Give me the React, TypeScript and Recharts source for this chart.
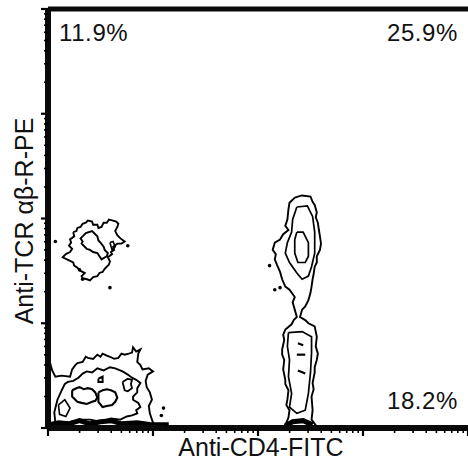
import React from 'react';
import { ScatterChart, Scatter, XAxis, YAxis } from 'recharts';

// Values are log10 fluorescence (decades): x = Anti-CD4-FITC, y = Anti-TCR αβ-R-PE
const DECADES = [0, 1, 2, 3, 4];
const MINOR_MULTIPLIERS = [2, 3, 4, 5, 6, 7, 8, 9];

const QUADRANT_LABELS = ['11.9%', '25.9%', '18.2%'];
const X_TITLE = 'Anti-CD4-FITC';
const Y_TITLE = 'Anti-TCR αβ-R-PE';

// Plot frame in decade units
const frameLeft = [[0, 4], [0, 0]];
const frameBottom = [[0, 0], [4, 0]];
const frameTop = [[0, 4], [4, 4]];

// Upper-left population (CD4- TCR+)
const popA_outer = [[0.24,1.87],[0.27,1.88],[0.28,1.91],[0.31,1.92],[0.33,1.95],[0.36,1.96],[0.38,1.98],[0.42,1.97],[0.43,1.94],[0.47,1.94],[0.48,1.91],[0.51,1.92],[0.53,1.96],[0.56,1.96],[0.58,1.99],[0.62,1.98],[0.65,1.97],[0.67,1.95],[0.66,1.92],[0.64,1.88],[0.66,1.84],[0.69,1.81],[0.73,1.78],[0.70,1.76],[0.66,1.76],[0.62,1.73],[0.63,1.70],[0.60,1.68],[0.61,1.66],[0.57,1.63],[0.59,1.59],[0.58,1.56],[0.54,1.52],[0.52,1.49],[0.49,1.48],[0.47,1.45],[0.43,1.44],[0.40,1.41],[0.37,1.42],[0.33,1.43],[0.32,1.45],[0.35,1.48],[0.31,1.50],[0.28,1.53],[0.25,1.55],[0.24,1.58],[0.20,1.60],[0.14,1.63],[0.17,1.66],[0.21,1.68],[0.23,1.71],[0.20,1.74],[0.22,1.77],[0.21,1.80],[0.25,1.83],[0.24,1.87]];
const popA_inner1 = [[0.33,1.83],[0.36,1.86],[0.42,1.88],[0.45,1.85],[0.47,1.83],[0.48,1.79],[0.50,1.77],[0.53,1.73],[0.54,1.70],[0.57,1.67],[0.56,1.64],[0.51,1.61],[0.49,1.64],[0.47,1.67],[0.43,1.68],[0.40,1.70],[0.37,1.71],[0.35,1.73],[0.32,1.76],[0.33,1.78],[0.31,1.81],[0.33,1.83]];
const popA_inner2 = [[0.59,1.77],[0.62,1.78],[0.64,1.73],[0.61,1.70],[0.59,1.77]];

// Lower-left population (double negative)
const popB_outer = [[0.02,0.62],[0.04,0.55],[0.07,0.49],[0.13,0.50],[0.21,0.49],[0.23,0.56],[0.26,0.60],[0.28,0.62],[0.33,0.63],[0.36,0.68],[0.38,0.67],[0.43,0.66],[0.47,0.70],[0.50,0.68],[0.52,0.71],[0.56,0.69],[0.59,0.68],[0.63,0.66],[0.67,0.67],[0.70,0.71],[0.73,0.70],[0.77,0.71],[0.80,0.72],[0.81,0.77],[0.84,0.73],[0.88,0.75],[0.86,0.71],[0.85,0.63],[0.88,0.60],[0.90,0.56],[0.96,0.57],[1.00,0.54],[0.95,0.51],[0.93,0.45],[0.94,0.39],[0.97,0.34],[0.99,0.27],[0.96,0.21],[0.97,0.14],[1.00,0.05],[1.07,0.01]];
const popB_middle = [[0.07,0.05],[0.06,0.15],[0.09,0.27],[0.13,0.36],[0.16,0.42],[0.19,0.44],[0.24,0.45],[0.29,0.48],[0.33,0.52],[0.37,0.54],[0.42,0.53],[0.47,0.57],[0.53,0.55],[0.59,0.58],[0.64,0.57],[0.71,0.54],[0.76,0.51],[0.80,0.48],[0.84,0.46],[0.88,0.43],[0.85,0.38],[0.85,0.34],[0.81,0.30],[0.81,0.27],[0.86,0.24],[0.88,0.20],[0.84,0.17],[0.85,0.14],[0.80,0.12],[0.75,0.11],[0.69,0.08],[0.60,0.09],[0.50,0.06],[0.40,0.08],[0.30,0.08],[0.22,0.06],[0.16,0.04],[0.07,0.05]];
const popB_inner1 = [[0.23,0.36],[0.27,0.38],[0.30,0.39],[0.34,0.37],[0.38,0.38],[0.42,0.37],[0.45,0.34],[0.47,0.29],[0.45,0.26],[0.42,0.25],[0.37,0.23],[0.32,0.24],[0.28,0.25],[0.26,0.27],[0.23,0.30],[0.23,0.36]];
const popB_inner2 = [[0.48,0.34],[0.52,0.36],[0.56,0.37],[0.60,0.36],[0.64,0.34],[0.66,0.29],[0.64,0.25],[0.61,0.22],[0.56,0.21],[0.52,0.20],[0.48,0.25],[0.48,0.34]];
const popB_inner3 = [[0.48,0.47],[0.52,0.49],[0.52,0.44],[0.48,0.44],[0.48,0.47]];
const popB_inner4 = [[0.71,0.44],[0.76,0.47],[0.80,0.46],[0.79,0.42],[0.80,0.38],[0.76,0.35],[0.73,0.36],[0.71,0.44]];
const popB_inner5 = [[0.10,0.22],[0.16,0.27],[0.21,0.19],[0.17,0.11],[0.11,0.13],[0.10,0.22]];
const popB_base = [[0.0,0.03],[0.1,0.05],[0.2,0.04],[0.3,0.07],[0.4,0.04],[0.5,0.06],[0.6,0.07],[0.7,0.04],[0.85,0.05],[1.0,0.03],[1.15,0.03]];

// Right population (CD4+ TCR+)
const popC_outer = [[2.35,2.20],[2.42,2.22],[2.50,2.21],[2.52,2.16],[2.54,2.13],[2.56,2.06],[2.55,2.01],[2.57,1.96],[2.58,1.89],[2.59,1.83],[2.60,1.76],[2.59,1.70],[2.56,1.64],[2.56,1.58],[2.54,1.54],[2.53,1.47],[2.52,1.42],[2.51,1.35],[2.50,1.29],[2.48,1.22],[2.45,1.16],[2.42,1.13],[2.40,1.06],[2.45,1.03],[2.48,1.00],[2.54,0.97],[2.55,0.92],[2.56,0.87],[2.55,0.78],[2.57,0.71],[2.56,0.65],[2.54,0.58],[2.54,0.53],[2.52,0.43],[2.53,0.37],[2.51,0.30],[2.52,0.17],[2.51,0.08],[2.57,0.0],[2.24,0.0],[2.27,0.05],[2.29,0.10],[2.30,0.17],[2.27,0.22],[2.28,0.27],[2.29,0.36],[2.26,0.42],[2.26,0.46],[2.24,0.56],[2.25,0.65],[2.23,0.70],[2.23,0.75],[2.25,0.84],[2.24,0.89],[2.26,0.94],[2.32,0.99],[2.34,1.03],[2.37,1.06],[2.35,1.13],[2.33,1.20],[2.35,1.25],[2.30,1.32],[2.26,1.35],[2.23,1.42],[2.21,1.49],[2.18,1.56],[2.16,1.61],[2.17,1.66],[2.14,1.70],[2.16,1.77],[2.21,1.80],[2.24,1.85],[2.29,1.89],[2.26,1.93],[2.28,1.99],[2.29,2.09],[2.30,2.15],[2.35,2.20]];
const popC_inner1 = [[2.37,2.11],[2.47,2.12],[2.52,2.02],[2.54,1.87],[2.54,1.67],[2.51,1.54],[2.48,1.45],[2.42,1.42],[2.37,1.48],[2.30,1.58],[2.26,1.67],[2.28,1.77],[2.32,1.87],[2.33,1.99],[2.37,2.11]];
const popC_inner2 = [[2.37,1.87],[2.43,1.87],[2.48,1.77],[2.48,1.64],[2.45,1.58],[2.38,1.58],[2.35,1.67],[2.35,1.80],[2.37,1.87]];
const popC_inner3 = [[2.29,0.91],[2.42,0.92],[2.51,0.87],[2.51,0.72],[2.50,0.53],[2.48,0.33],[2.45,0.17],[2.37,0.14],[2.30,0.20],[2.32,0.33],[2.29,0.49],[2.30,0.65],[2.28,0.78],[2.29,0.91]];
const popC_mark1 = [[2.38,0.81],[2.43,0.79]];
const popC_mark2 = [[2.37,0.70],[2.45,0.70]];
const popC_mark3 = [[2.38,0.55],[2.45,0.52]];
const popC_base = [[2.26,0.02],[2.33,0.06],[2.43,0.07],[2.52,0.03]];

// Isolated events
const sparseEvents = [[0.07,1.78],[0.59,1.34],[0.76,1.74],[0.30,1.51],[0.33,1.42],[1.10,0.19],[1.08,0.12],[1.12,0.03],[2.11,1.55],[2.16,1.32],[2.21,1.34]];

const CONTOURS: { pts: number[][]; w: number; c: string }[] = [
  { pts: popA_outer, w: 1.9, c: '#000' }, { pts: popA_inner1, w: 1.9, c: '#000' }, { pts: popA_inner2, w: 1.6, c: '#000' },
  { pts: popB_outer, w: 1.9, c: '#000' }, { pts: popB_middle, w: 1.9, c: '#000' }, { pts: popB_inner1, w: 2.1, c: '#000' },
  { pts: popB_inner2, w: 2.1, c: '#000' }, { pts: popB_inner3, w: 2, c: '#000' }, { pts: popB_inner4, w: 1.8, c: '#000' },
  { pts: popB_inner5, w: 1.6, c: '#000' }, { pts: popB_base, w: 5, c: '#000' },
  { pts: popC_outer, w: 1.9, c: '#000' }, { pts: popC_inner1, w: 1.7, c: '#000' }, { pts: popC_inner2, w: 1.7, c: '#000' },
  { pts: popC_inner3, w: 1.7, c: '#000' }, { pts: popC_mark1, w: 2.2, c: '#000' }, { pts: popC_mark2, w: 2.2, c: '#000' },
  { pts: popC_mark3, w: 2.2, c: '#000' }, { pts: popC_base, w: 5, c: '#000' },
  { pts: frameLeft, w: 6, c: '#0a0a0a' }, { pts: frameBottom, w: 6, c: '#0a0a0a' }, { pts: frameTop, w: 5, c: '#0a0a0a' },
];

const TICKS: number[] = [];
DECADES.forEach((d) => {
  TICKS.push(d);
  if (d < 4) MINOR_MULTIPLIERS.forEach((m) => TICKS.push(d + Math.log10(m)));
});

const isMajor = (v: number) => Math.abs(v - Math.round(v)) < 1e-6;

// Custom ticks: default tickSize 6 + tickMargin 2 => text anchor sits 8px outside the axis line
const YTick = (props: any) => {
  const { x, y, payload } = props;
  const axisX = x + 8;
  const major = isMajor(payload.value);
  const len = major ? 7 : 4;
  return <line x1={axisX - len} x2={axisX} y1={y} y2={y} stroke="#000" strokeWidth={major ? 2.2 : 1.6} />;
};
const XTick = (props: any) => {
  const { x, y, payload } = props;
  const axisY = y - 8;
  const major = isMajor(payload.value);
  const len = major ? 8 : 5;
  return <line x1={x} x2={x} y1={axisY} y2={axisY + len} stroke="#000" strokeWidth={major ? 2.2 : 1.6} />;
};

const toXY = (arr: number[][]) => arr.map(([x, y]) => ({ x, y }));
const NoShape = () => <g />;
const Dot = (p: any) => <circle cx={p.cx} cy={p.cy} r={1.8} fill="#000" />;

const FONT = "'Liberation Sans', Arial, Helvetica, sans-serif";

export default function App() {
  return (
    <div style={{ position: 'absolute', left: 0, top: 0, width: 468, height: 463, background: '#fff' }}>
      <ScatterChart width={468} height={463} margin={{ top: 9, right: 0, bottom: 0, left: 0 }}>
        <XAxis type="number" dataKey="x" domain={[0, 4]} ticks={TICKS} interval={0} height={35}
          tick={<XTick />} tickLine={false} axisLine={{ stroke: '#0a0a0a', strokeWidth: 3 }} />
        <YAxis type="number" dataKey="y" domain={[0, 4]} ticks={TICKS} interval={0} width={48}
          tick={<YTick />} tickLine={false} axisLine={{ stroke: '#0a0a0a', strokeWidth: 3 }} />
        {CONTOURS.map((c, i) => (
          <Scatter key={i} data={toXY(c.pts)} fill="#000" shape={<NoShape />} lineType="joint"
            line={{ stroke: c.c, strokeWidth: c.w }} isAnimationActive={false} />
        ))}
        <Scatter data={toXY(sparseEvents)} fill="#000" shape={<Dot />} isAnimationActive={false} />
      </ScatterChart>
      <svg width={468} height={463} style={{ position: 'absolute', left: 0, top: 0, pointerEvents: 'none' }}>
        <text x={59} y={41} fontFamily={FONT} fontSize={24} fill="#111" letterSpacing={0.6}>{QUADRANT_LABELS[0]}</text>
        <text x={458} y={41} fontFamily={FONT} fontSize={24} fill="#111" textAnchor="end" letterSpacing={0.6}>{QUADRANT_LABELS[1]}</text>
        <text x={458} y={409} fontFamily={FONT} fontSize={24} fill="#111" textAnchor="end" letterSpacing={0.6}>{QUADRANT_LABELS[2]}</text>
        <text x={261} y={456} fontFamily={FONT} fontSize={25} fill="#111" textAnchor="middle">{X_TITLE}</text>
        <text x={33} y={221} fontFamily={FONT} fontSize={25} fill="#111" textAnchor="middle" transform="rotate(-90, 33, 221)">{Y_TITLE}</text>
      </svg>
    </div>
  );
}
